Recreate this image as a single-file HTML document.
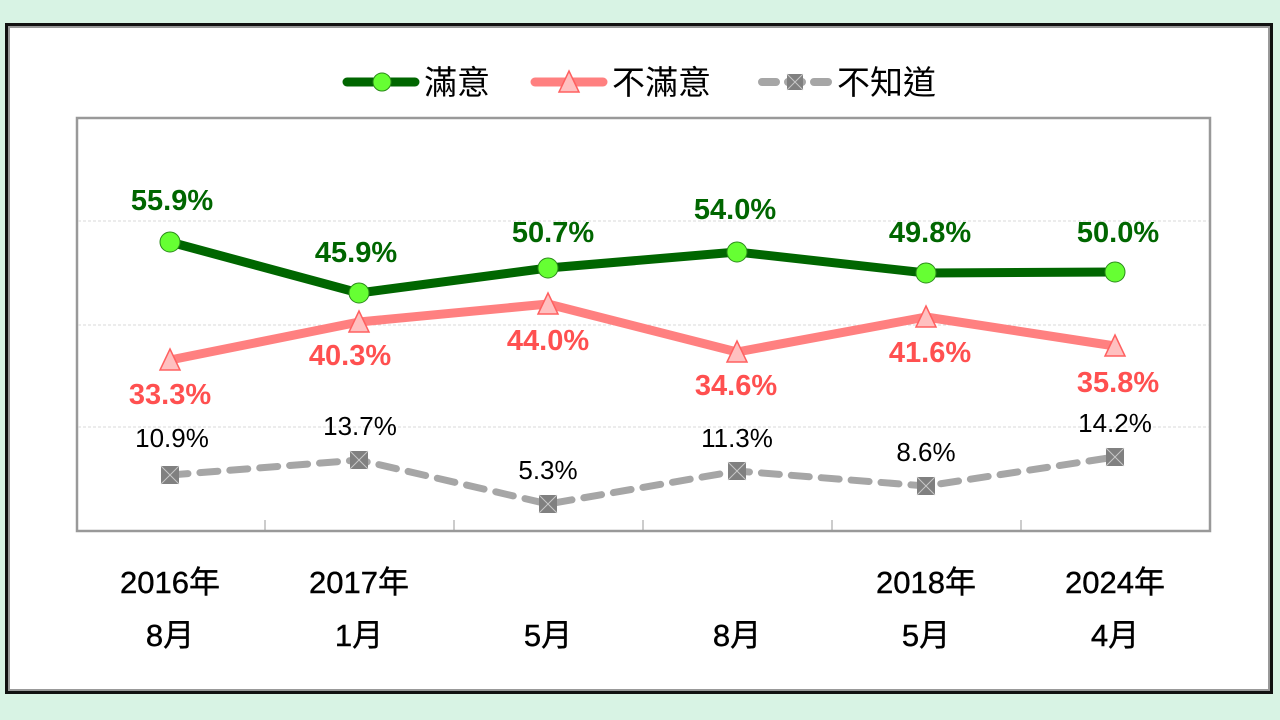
<!DOCTYPE html>
<html><head><meta charset="utf-8"><style>
html,body{margin:0;padding:0;background:#d8f3e4;}
svg{display:block}
</style></head><body>
<svg width="1280" height="720" xmlns="http://www.w3.org/2000/svg" font-family="Liberation Sans, Noto Sans CJK TC, sans-serif">
<rect x="0" y="0" width="1280" height="720" fill="#d8f3e4"/>
<rect x="6.5" y="24.5" width="1265" height="668" fill="#fff" stroke="#111" stroke-width="3"/>
<rect x="9" y="27" width="1260" height="663" fill="none" stroke="#999" stroke-width="2"/>
<!-- legend -->
<line x1="347" y1="82" x2="415" y2="82" stroke="#006600" stroke-width="9" stroke-linecap="round"/>
<circle cx="382" cy="82" r="9" fill="#66ff33" stroke="#2a8a1a" stroke-width="1"/>
<text x="424" y="94" font-size="33" fill="#000">滿意</text>
<line x1="535" y1="82" x2="603" y2="82" stroke="#ff8080" stroke-width="9" stroke-linecap="round"/>
<polygon points="569,71 579,92 559,92" fill="#ffc0c0" stroke="#ff6060" stroke-width="1.5"/>
<text x="612" y="94" font-size="33" fill="#000">不滿意</text>
<line x1="762" y1="82" x2="828" y2="82" stroke="#a6a6a6" stroke-width="8" stroke-linecap="round" stroke-dasharray="14,12"/>
<rect x="787" y="74" width="16" height="16" fill="#808080"/>
<path d="M787,74 L803,90 M803,74 L787,90" stroke="#c8c8c8" stroke-width="1"/>
<text x="837" y="94" font-size="33" fill="#000">不知道</text>
<!-- plot -->
<rect x="77" y="118" width="1133" height="413" fill="#fff" stroke="#999" stroke-width="2.5"/>
<g stroke="#d9d9d9" stroke-width="1" stroke-dasharray="3,2">
<line x1="78" y1="221" x2="1209" y2="221"/>
<line x1="78" y1="325" x2="1209" y2="325"/>
<line x1="78" y1="427" x2="1209" y2="427"/>
</g>
<g stroke="#999" stroke-width="1">
<line x1="265" y1="520" x2="265" y2="531"/>
<line x1="454" y1="520" x2="454" y2="531"/>
<line x1="643" y1="520" x2="643" y2="531"/>
<line x1="832" y1="520" x2="832" y2="531"/>
<line x1="1021" y1="520" x2="1021" y2="531"/>
</g>
<polyline points="170,242 359,293 548,268 737,252 926,273 1115,272" fill="none" stroke="#006600" stroke-width="9" stroke-linejoin="round"/>
<polyline points="170,360 359,322 548,304 737,352 926,317 1115,346" fill="none" stroke="#ff8080" stroke-width="9" stroke-linejoin="round"/>
<polyline points="170,475 359,460 548,504 737,471 926,486 1115,457" fill="none" stroke="#a6a6a6" stroke-width="7" stroke-dasharray="18,12" stroke-linecap="round"/>
<g fill="#66ff33" stroke="#2a8a1a" stroke-width="1">
<circle cx="170" cy="242" r="10"/><circle cx="359" cy="293" r="10"/><circle cx="548" cy="268" r="10"/>
<circle cx="737" cy="252" r="10"/><circle cx="926" cy="273" r="10"/><circle cx="1115" cy="272" r="10"/>
</g>
<g fill="#ffc0c0" stroke="#ff6060" stroke-width="1.5">
<polygon points="170,349 180,370 160,370"/><polygon points="359,311 369,332 349,332"/><polygon points="548,293 558,314 538,314"/>
<polygon points="737,341 747,362 727,362"/><polygon points="926,306 936,327 916,327"/><polygon points="1115,335 1125,356 1105,356"/>
</g>
<g>
<rect x="161" y="466" width="18" height="18" fill="#808080"/><path d="M161,466l18,18m0,-18l-18,18" stroke="#c8c8c8"/>
<rect x="350" y="451" width="18" height="18" fill="#808080"/><path d="M350,451l18,18m0,-18l-18,18" stroke="#c8c8c8"/>
<rect x="539" y="495" width="18" height="18" fill="#808080"/><path d="M539,495l18,18m0,-18l-18,18" stroke="#c8c8c8"/>
<rect x="728" y="462" width="18" height="18" fill="#808080"/><path d="M728,462l18,18m0,-18l-18,18" stroke="#c8c8c8"/>
<rect x="917" y="477" width="18" height="18" fill="#808080"/><path d="M917,477l18,18m0,-18l-18,18" stroke="#c8c8c8"/>
<rect x="1106" y="448" width="18" height="18" fill="#808080"/><path d="M1106,448l18,18m0,-18l-18,18" stroke="#c8c8c8"/>
</g>
<g font-size="29" font-weight="bold" fill="#006600" text-anchor="middle">
<text x="172" y="210">55.9%</text><text x="356" y="262">45.9%</text><text x="553" y="242">50.7%</text>
<text x="735" y="219">54.0%</text><text x="930" y="242">49.8%</text><text x="1118" y="242">50.0%</text>
</g>
<g font-size="29" font-weight="bold" fill="#ff5050" text-anchor="middle">
<text x="170" y="404">33.3%</text><text x="350" y="365">40.3%</text><text x="548" y="350">44.0%</text>
<text x="736" y="395">34.6%</text><text x="930" y="362">41.6%</text><text x="1118" y="392">35.8%</text>
</g>
<g font-size="26" fill="#000" text-anchor="middle">
<text x="172" y="447">10.9%</text><text x="360" y="435">13.7%</text><text x="548" y="479">5.3%</text>
<text x="737" y="447">11.3%</text><text x="926" y="461">8.6%</text><text x="1115" y="432">14.2%</text>
</g>
<g font-size="31" fill="#000" text-anchor="middle" stroke="#000" stroke-width="0.4">
<text x="170" y="593">2016年</text><text x="359" y="593">2017年</text><text x="926" y="593">2018年</text><text x="1115" y="593">2024年</text>
<text x="170" y="646">8月</text><text x="359" y="646">1月</text><text x="548" y="646">5月</text>
<text x="737" y="646">8月</text><text x="926" y="646">5月</text><text x="1115" y="646">4月</text>
</g>
</svg>
</body></html>
